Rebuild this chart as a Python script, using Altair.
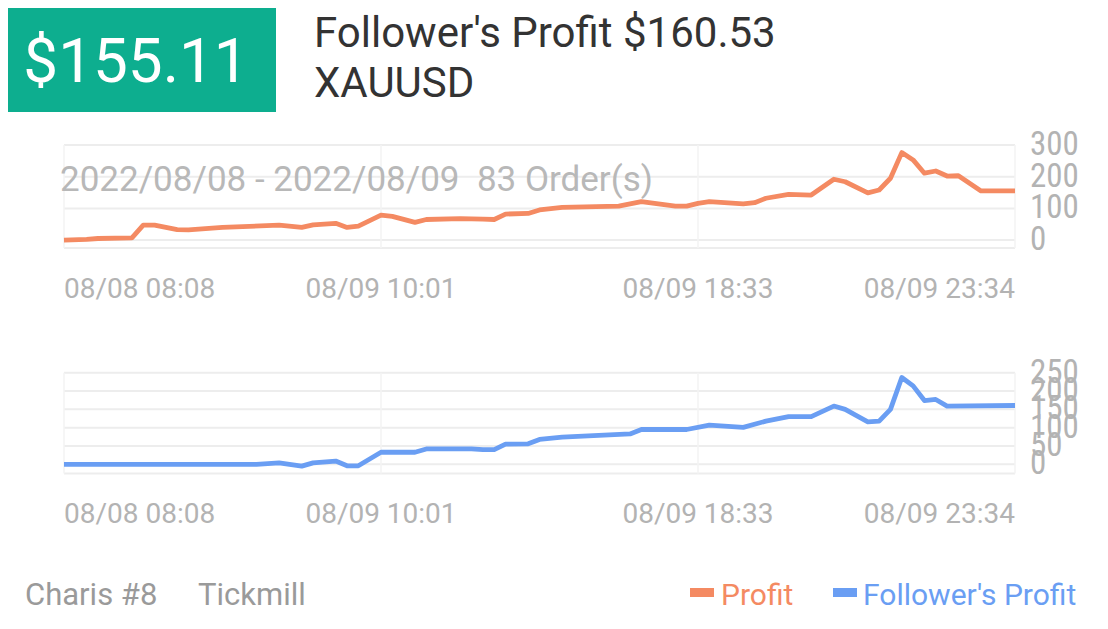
import altair as alt
import pandas as pd

# ---------------- data ----------------
# order index (x) and cumulative profit values
profit_idx = [0, 2, 3, 6, 7, 8, 10, 11, 14, 19, 21, 22, 24, 25, 26, 28, 29, 31, 32, 35,
              37, 38, 39, 41, 42, 44, 49, 51, 54, 55, 56, 57, 60, 61, 62, 64, 66, 68, 69, 71,
              72, 73, 74, 75, 76, 77, 78, 79, 81, 84]
profit_val = [0, 2, 5, 7, 47, 47, 33, 32, 40, 47, 40, 48, 53, 40, 44, 79, 75, 56, 65, 68,
              66, 65, 82, 84, 95, 103, 107, 121, 107, 107, 116, 121, 114, 118, 132, 144, 142, 192, 184, 149,
              158, 195, 276, 253, 211, 218, 202, 203, 155, 155.11]

follower_idx = [0, 17, 19, 21, 22, 24, 25, 26, 28, 31, 32, 36, 37, 38, 39, 41, 42, 44, 50, 51,
                55, 57, 60, 62, 64, 66, 68, 69, 71, 72, 73, 74, 75, 76, 77, 78, 84]
follower_val = [0, 0, 4, -5, 4, 9, -4, -4, 33, 33, 42, 42, 40, 40, 55, 56, 68, 74, 83, 95,
                95, 107, 101, 118, 130, 130, 159, 150, 116, 118, 150, 237, 214, 174, 177, 159, 160.53]

x_tick_idx = [0, 28, 56, 84]
x_tick_labels = ["08/08 08:08", "08/09 10:01", "08/09 18:33", "08/09 23:34"]
x_domain = [0, 84]

top_ticks = [0, 100, 200, 300]
top_domain = [-25, 300]
bottom_ticks = [0, 50, 100, 150, 200, 250]
bottom_domain = [-25, 250]

big_value = "$155.11"
title_line1 = "Follower's Profit $160.53"
title_line2 = "XAUUSD"
period_text = "2022/08/08 - 2022/08/09\u00a0\u00a083 Order(s)"
footer_left = ["Charis #8", "Tickmill"]
legend_names = ["Profit", "Follower's Profit"]

# ---------------- styles ----------------
ORANGE = "#F48A62"
BLUE = "#6A9EF3"
GREEN = "#0DAE8F"
GRID = "#EDEDED"
LABEL = "#B3B3B3"
FONT = "Roboto"
NARROW = "Liberation Sans Narrow, Roboto Condensed, Roboto"

W = 1092
UPPER_H = 300
LOWER_H = 312
X_RANGE = [56, 1007]


def panel(idx, vals, ticks, domain, yrange, color, xlab_y):
    x_sc = alt.Scale(domain=x_domain, range=X_RANGE, nice=False, zero=False)
    ysc = alt.Scale(domain=domain, range=yrange, nice=False, zero=False)
    line_df = pd.DataFrame({"i": idx, "v": vals})
    tick_df = pd.DataFrame({"v": ticks + [domain[0]], "lbl": [str(t) for t in ticks] + [""]})
    xt_df = pd.DataFrame({"i": x_tick_idx, "lbl": x_tick_labels})

    hgrid = alt.Chart(tick_df).mark_rule(color=GRID, strokeWidth=2).encode(
        y=alt.Y("v:Q", scale=ysc, axis=None),
        x=alt.value(X_RANGE[0]), x2=alt.value(X_RANGE[1]))
    vgrid = alt.Chart(xt_df).transform_calculate(
        lo=str(domain[0]), hi=str(domain[1])
    ).mark_rule(color="#F3F3F3", strokeWidth=1.5).encode(
        x=alt.X("i:Q", scale=x_sc, axis=None),
        y=alt.Y("lo:Q", scale=ysc, axis=None), y2="hi:Q")
    line = alt.Chart(line_df).mark_line(color=color, strokeWidth=4.8, strokeJoin="round").encode(
        x=alt.X("i:Q", scale=x_sc, axis=None),
        y=alt.Y("v:Q", scale=ysc, axis=None))
    ylab = alt.Chart(tick_df).mark_text(align="left", baseline="middle", font=NARROW,
                                        fontSize=33, color=LABEL).encode(
        y=alt.Y("v:Q", scale=ysc, axis=None), x=alt.value(1022), text="lbl:N")
    xl_first = alt.Chart(xt_df).transform_filter(f"datum.i == {x_tick_idx[0]}").mark_text(
        align="left", baseline="alphabetic", font=FONT, fontSize=28, color=LABEL).encode(
        x=alt.X("i:Q", scale=x_sc, axis=None), y=alt.value(xlab_y), text="lbl:N")
    xl_mid = alt.Chart(xt_df).transform_filter(
        f"datum.i != {x_tick_idx[0]} && datum.i != {x_tick_idx[-1]}").mark_text(
        align="center", baseline="alphabetic", font=FONT, fontSize=28, color=LABEL).encode(
        x=alt.X("i:Q", scale=x_sc, axis=None), y=alt.value(xlab_y), text="lbl:N")
    xl_last = alt.Chart(xt_df).transform_filter(f"datum.i == {x_tick_idx[-1]}").mark_text(
        align="right", baseline="alphabetic", font=FONT, fontSize=28, color=LABEL).encode(
        x=alt.X("i:Q", scale=x_sc, axis=None), y=alt.value(xlab_y), text="lbl:N")
    return [hgrid, vgrid, line, ylab, xl_first, xl_mid, xl_last]


def txt(s, x, y, size, color, align="left", font=FONT):
    return alt.Chart(pd.DataFrame({"t": [s]})).mark_text(
        align=align, baseline="alphabetic", font=font, fontSize=size, color=color
    ).encode(x=alt.value(x), y=alt.value(y), text="t:N")


one = pd.DataFrame({"k": [0]})

# ---- upper cell: header + profit panel ----
green_box = alt.Chart(one).mark_rect(color=GREEN).encode(
    x=alt.value(0), x2=alt.value(268), y=alt.value(0), y2=alt.value(104))
header = [
    green_box,
    txt(big_value, 128, 74, 62, "white", align="center"),
    txt(title_line1, 306, 39, 42, "#333333"),
    txt(title_line2, 306, 89, 42, "#333333"),
]
top_layers = panel(profit_idx, profit_val, top_ticks, top_domain, [240, 137], ORANGE, 290)
overlay = txt(period_text, 52, 183, 35, "#B8B8B8")
upper = alt.layer(*header, *top_layers, overlay).properties(width=W, height=UPPER_H)

# ---- lower cell: follower panel + footer ----
bot_layers = panel(follower_idx, follower_val, bottom_ticks, bottom_domain, [165.5, 64.7], BLUE, 215)
leg_o = alt.Chart(one).mark_rect(color=ORANGE).encode(
    x=alt.value(682), x2=alt.value(706), y=alt.value(280), y2=alt.value(289))
leg_b = alt.Chart(one).mark_rect(color=BLUE).encode(
    x=alt.value(825), x2=alt.value(849), y=alt.value(280), y2=alt.value(289))
footer = [
    txt(footer_left[0], 17, 297, 31, "#9A9A9A"),
    txt(footer_left[1], 190, 297, 31, "#9A9A9A"),
    leg_o, txt(legend_names[0], 713, 297, 30, ORANGE),
    leg_b, txt(legend_names[1], 855, 297, 30, BLUE),
]
lower = alt.layer(*bot_layers, *footer).properties(width=W, height=LOWER_H)

chart = alt.vconcat(upper, lower, spacing=0).properties(
    padding=0, background="white"
).configure_view(stroke=None)

chart.save("out.html", embed_options={"renderer": "svg", "actions": False})
